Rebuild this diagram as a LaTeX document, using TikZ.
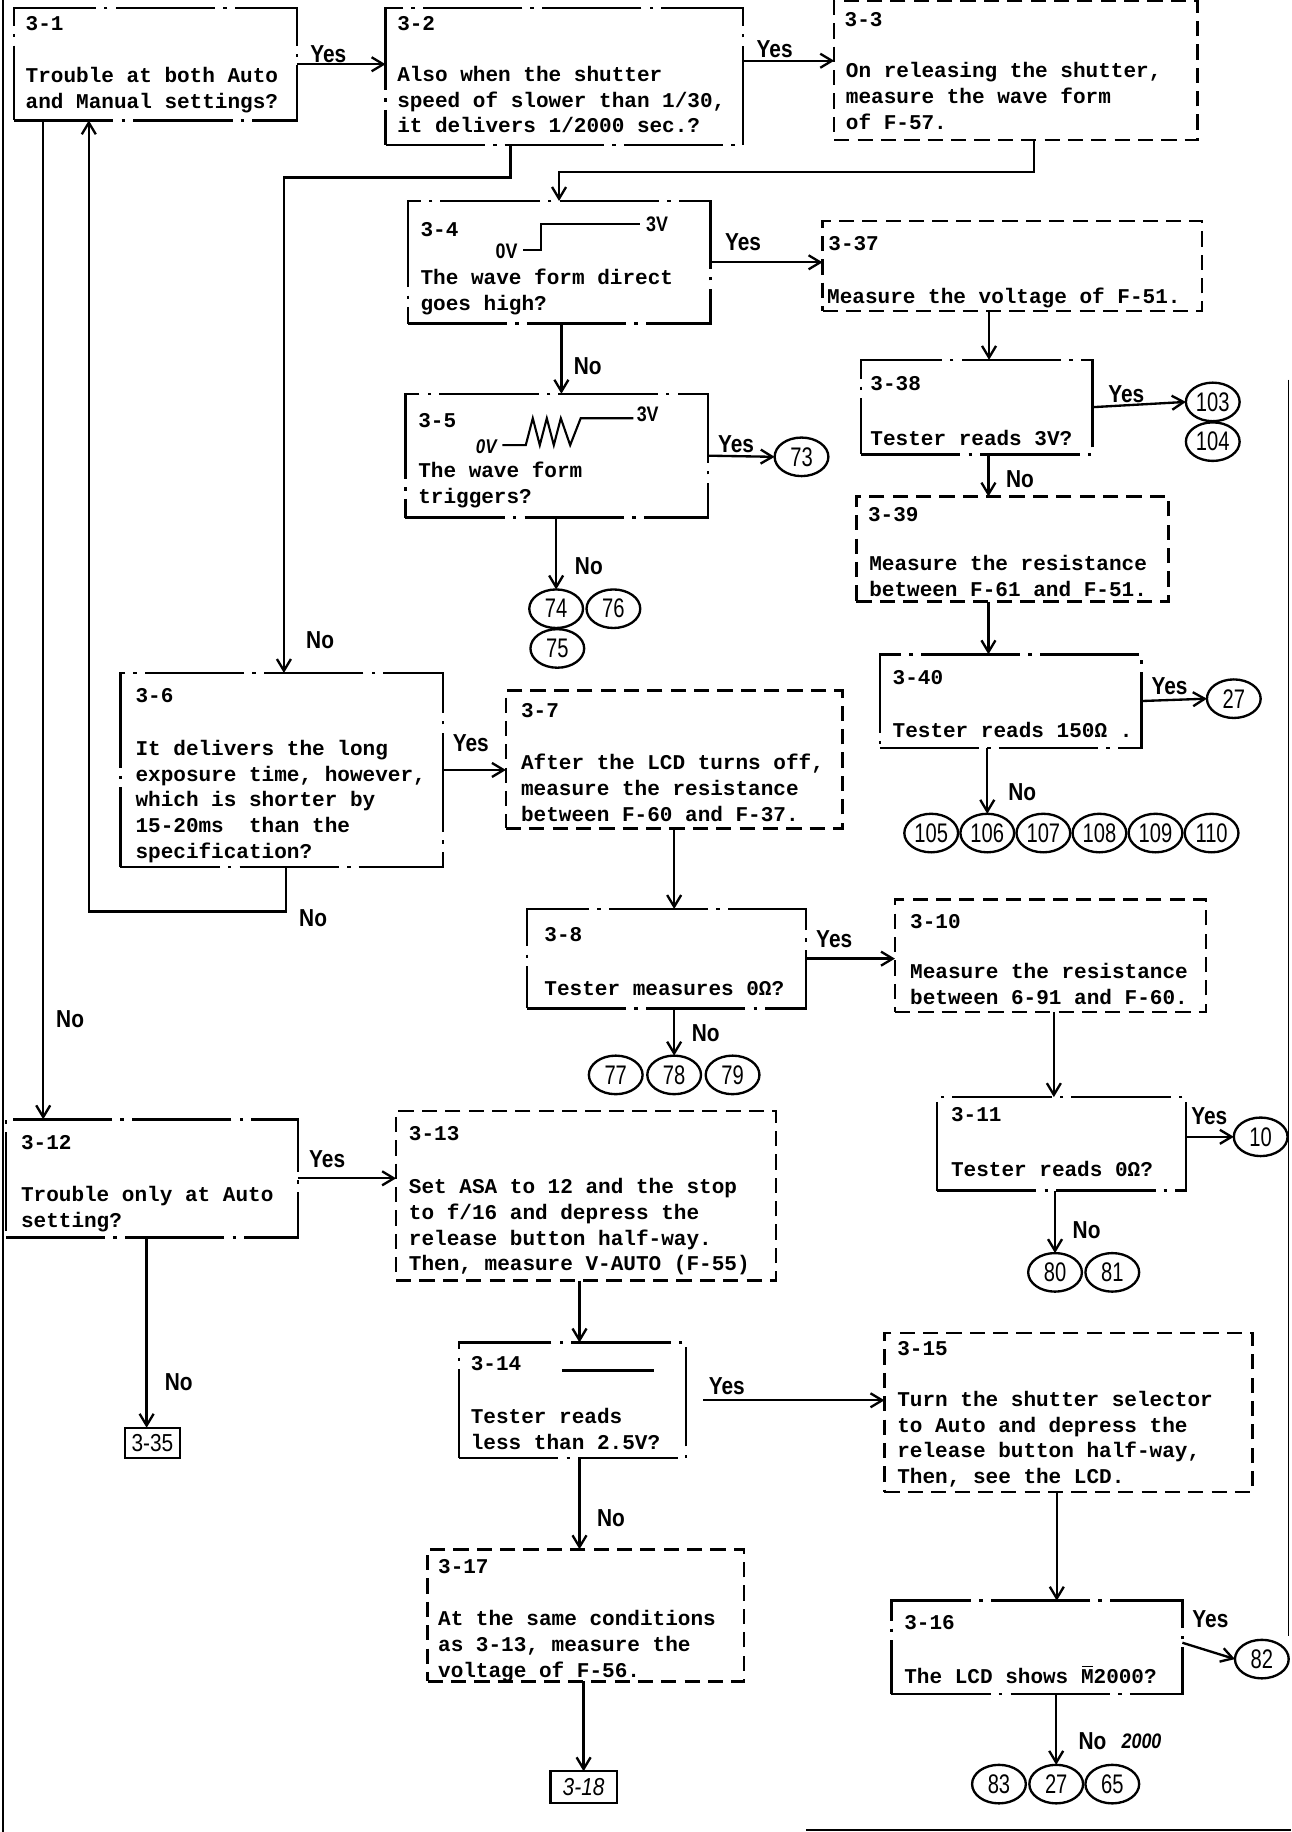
\documentclass[tikz,border=0pt]{standalone}
\usepackage{fontspec}
\newfontfamily\tw{Liberation Mono}
\newfontfamily\hw[FakeStretch=0.85]{Liberation Sans}
\newfontfamily\hwn[FakeStretch=0.75]{Liberation Sans}
\usetikzlibrary{arrows.meta,shapes.geometric}
\tikzset{
  every node/.style={inner sep=0pt, outer sep=0pt},
  dec/.style={draw, rectangle, line width=2.1pt, dash pattern=on 85pt off 7pt on 3pt off 7pt},
  act/.style={draw, rectangle, line width=2.1pt, dash pattern=on 13pt off 7pt},
  hbox/.style={draw, rectangle, line width=2.1pt, font=\hw\fontsize{21}{22}\selectfont},
  idt/.style={anchor=base west, font=\tw\bfseries\fontsize{18}{22}\selectfont},
  body/.style={anchor=north west, align=left, font=\tw\bfseries\fontsize{18}{22}\selectfont, execute at begin node=\strut},
  arr/.style={line width=2pt, -{Straight Barb[length=10pt,width=12pt,line width=2pt]}},
  ln/.style={line width=1.8pt},
  yn/.style={font=\hw\bfseries\fontsize{21}{22}\selectfont},
  wv/.style={font=\hw\bfseries\fontsize{18}{20}\selectfont},
  cir/.style={ellipse, draw, line width=2pt, minimum width=46pt, minimum height=33pt, font=\hwn\fontsize{23}{24}\selectfont}
}
\begin{document}
\begin{tikzpicture}[x=1pt,y=-1pt]
\useasboundingbox (0,0) rectangle (1105,1568);
% scan borders
\draw[line width=2.2pt] (2.5,0) -- (2.5,1568);
\draw[line width=1pt] (1102.5,325) -- (1102.5,1400);
\draw[line width=1.8pt] (690,1566) -- (1105,1566);

% ---------- boxes ----------
\node[dec, minimum width=242pt, minimum height=96pt] (b31) at (133,55) {};
\node[idt] (b31i) at (22,26) {3-1};
\node[body] (b31t) at (22,57.6) {Trouble at both Auto\\and Manual settings?};

\node[dec, minimum width=306pt, minimum height=117pt] (b32) at (483,65.5) {};
\node[idt] (b32i) at (340,26) {3-2};
\node[body] (b32t) at (340,56.6) {Also when the shutter\\speed of slower than 1/30,\\it delivers 1/2000 sec.?};

\node[act, minimum width=311pt, minimum height=119pt] (b33) at (869.5,60.5) {};
\node[idt] (b33i) at (723,23) {3-3};
\node[body] (b33t) at (724,53.6) {On releasing the shutter,\\measure the wave form\\of F-57.};

\node[dec, minimum width=259pt, minimum height=105pt] (b34) at (478.5,224.5) {};
\node[idt] (b34i) at (360,202) {3-4};
\node[body] (b34t) at (360,230.6) {The wave form direct\\goes high?};
\draw[ln] (448,214) -- (463,214) -- (463,192) -- (548,192);
\node[wv, anchor=base east] (b34a) at (443,221) {0V};
\node[wv, anchor=base west] (b34b) at (553,198) {3V};

\node[act, minimum width=325pt, minimum height=77pt] (b337) at (866.5,227.5) {};
\node[idt] (b337i) at (709,214) {3-37};
\node[body] (b337t) at (708,244.6) {Measure the voltage of F-51.};

\node[dec, minimum width=198pt, minimum height=81pt] (b338) at (836,348.5) {};
\node[idt] (b338i) at (745,334) {3-38};
\node[body] (b338t) at (745,365.6) {Tester reads 3V?};

\node[act, minimum width=267pt, minimum height=90pt] (b339) at (866.5,470) {};
\node[idt] (b339i) at (743,446) {3-39};
\node[body] (b339t) at (744,475.6) {Measure the resistance\\between F-61 and F-51.};

\node[dec, minimum width=224pt, minimum height=80pt] (b340) at (865,600) {};
\node[idt] (b340i) at (764,586) {3-40};
\node[body] (b340t) at (764,615.6) {Tester reads 150Ω .};

\node[dec, minimum width=259pt, minimum height=106pt] (b35) at (476.5,390) {};
\node[idt] (b35i) at (358,366) {3-5};
\node[body] (b35t) at (358,395.6) {The wave form\\triggers?};
\draw[ln] (430,381) -- (450,381) -- (456,358) -- (462,381) -- (468,358) -- (474,381) -- (480,358) -- (488,381) -- (497,358) -- (542,358);
\node[wv, anchor=base east, font=\hw\bfseries\itshape\fontsize{17}{20}\selectfont] (b35a) at (425,388) {0V};
\node[wv, anchor=base west] (b35b) at (545,361) {3V};

\node[dec, minimum width=276pt, minimum height=166pt] (b36) at (241,659) {};
\node[idt] (b36i) at (116,601) {3-6};
\node[body] (b36t) at (116,633.6) {It delivers the long\\exposure time, however,\\which is shorter by\\15-20ms\ \ than the\\specification?};

\node[act, minimum width=288pt, minimum height=118pt] (b37) at (577,650) {};
\node[idt] (b37i) at (446,614) {3-7};
\node[body] (b37t) at (446,645.6) {After the LCD turns off,\\measure the resistance\\between F-60 and F-37.};

\node[dec, minimum width=239pt, minimum height=85pt] (b38) at (570.5,820.5) {};
\node[idt] (b38i) at (466,806) {3-8};
\node[body] (b38t) at (466,836.6) {Tester measures 0Ω?};

\node[act, minimum width=266pt, minimum height=96pt] (b310) at (899,818) {};
\node[idt] (b310i) at (779,795) {3-10};
\node[body] (b310t) at (779,824.6) {Measure the resistance\\between 6-91 and F-60.};

\node[dec, minimum width=213pt, minimum height=80pt] (b311) at (908.5,979) {};
\node[idt] (b311i) at (814,960) {3-11};
\node[body] (b311t) at (814,991.6) {Tester reads 0Ω?};

\node[dec, minimum width=250pt, minimum height=101pt] (b312) at (130,1008.5) {};
\node[idt] (b312i) at (18,984) {3-12};
\node[body] (b312t) at (18,1015.6) {Trouble only at Auto\\setting?};

\node[act, minimum width=325pt, minimum height=145pt] (b313) at (501.5,1023.5) {};
\node[idt] (b313i) at (350,976) {3-13};
\node[body] (b313t) at (350,1008.6) {Set ASA to 12 and the stop\\to f/16 and depress the\\release button half-way.\\Then, measure V-AUTO (F-55)};

\node[dec, minimum width=194pt, minimum height=99pt] (b314) at (490,1198.5) {};
\node[idt] (b314i) at (403,1173) {3-14};
\node[body] (b314t) at (403,1205.6) {Tester reads\\less than 2.5V?};
\draw[ln] (481,1173) -- (560,1173);

\node[act, minimum width=315pt, minimum height=136pt] (b315) at (914.5,1209) {};
\node[idt] (b315i) at (768,1160) {3-15};
\node[body] (b315t) at (768,1190.6) {Turn the shutter selector\\to Auto and depress the\\release button half-way,\\Then, see the LCD.};

\node[dec, minimum width=249pt, minimum height=80pt] (b316) at (887.5,1410) {};
\node[idt] (b316i) at (774,1395) {3-16};
\node[body] (b316t) at (774,1425.6) {The LCD shows \rlap{\hspace{1pt}\rule[14.5pt]{9pt}{1.2pt}}M2000?};

\node[act, minimum width=271pt, minimum height=113pt] (b317) at (501.5,1382.5) {};
\node[idt] (b317i) at (375,1347) {3-17};
\node[body] (b317t) at (375,1378.6) {At the same conditions\\as 3-13, measure the\\voltage of F-56.};

\node[hbox, minimum width=47pt, minimum height=26pt] (b335) at (130.5,1235) {3-35};
\node[hbox, minimum width=57pt, minimum height=27pt, font=\hw\itshape\fontsize{21}{22}\selectfont] (b318) at (499.5,1529.5) {3-18};

% ---------- circles ----------
\node[cir] (c103) at (1038,344) {103};
\node[cir] (c104) at (1038,378) {104};
\node[cir] (c27a) at (1056,598) {27};
\node[cir] (c105) at (797,713) {105};
\node[cir] (c106) at (845,713) {106};
\node[cir] (c107) at (893,713) {107};
\node[cir] (c108) at (941,713) {108};
\node[cir] (c109) at (989,713) {109};
\node[cir] (c110) at (1037,713) {110};
\node[cir] (c73) at (686,391) {73};
\node[cir] (c74) at (476,521) {74};
\node[cir] (c76) at (525,521) {76};
\node[cir] (c75) at (477,555) {75};
\node[cir] (c77) at (527,920) {77};
\node[cir] (c78) at (577,920) {78};
\node[cir] (c79) at (627,920) {79};
\node[cir] (c10) at (1079,973) {10};
\node[cir] (c80) at (903,1089) {80};
\node[cir] (c81) at (952,1089) {81};
\node[cir] (c82) at (1080,1420) {82};
\node[cir] (c83) at (855,1527) {83};
\node[cir] (c27b) at (904,1527) {27};
\node[cir] (c65) at (952,1527) {65};

% ---------- connectors ----------
\draw[arr] (b31.east) -- (b31.east -| b32.west);
\draw[arr] ([yshift=13.5pt]b32.east) -- ([yshift=13.5pt]b32.east -| b33.west);
\draw[arr] ([xshift=15.5pt]b33.south) -- ++(0,27) -| (b34.north);
\draw[arr] ([xshift=-46pt]b32.south) -- ++(0,28) -| ([xshift=2pt]b36.north);
\draw[arr] (b34.east) -- (b34.east -| b337.west);
\draw[arr] ([xshift=-20pt]b337.south) -- ([xshift=-20pt]b337.south |- b338.north);
\draw[arr] (b338.east) -- (c103.west);
\draw[arr] ([xshift=10pt]b338.south) -- ([xshift=10pt]b338.south |- b339.north);
\draw[arr] ([xshift=-20.5pt]b339.south) -- ([xshift=-20.5pt]b339.south |- b340.north);
\draw[arr] (b340.east) -- (c27a.west);
\draw[arr] (c106.north |- b340.south) -- (c106.north);
\draw[arr] ([xshift=2pt]b34.south) -- ([xshift=2pt]b34.south |- b35.north);
\draw[arr] (b35.east) -- (c73.west);
\draw[arr] (c74.north |- b35.south) -- (c74.north);
\draw[arr] (b36.east) -- (b36.east -| b37.west);
\draw[arr] ([xshift=4pt]b36.south) -- ++(0,38) -| ([xshift=-57pt]b31.south);
\draw[arr] (b37.south) -- (b37.south |- b38.north);
\draw[arr] (b38.east) -- (b38.east -| b310.west);
\draw[arr] (c78.north |- b38.south) -- (c78.north);
\draw[arr] ([xshift=3pt]b310.south) -- ([xshift=3pt]b310.south |- b311.north);
\draw[arr] ([yshift=6pt]b311.east) -- (c10.west);
\draw[arr] (c80.north |- b311.south) -- (c80.north);
\draw[arr] ([xshift=-96pt]b31.south) -- ([xshift=-96pt]b31.south |- b312.north);
\draw[arr] (b312.east) -- (b312.east -| b313.west);
\draw[arr] ([xshift=-5pt]b335.north |- b312.south) -- ([xshift=-5pt]b335.north);
\draw[arr] ([xshift=6pt]b314.north |- b313.south) -- ([xshift=6pt]b314.north);
\draw[arr, shorten <=15pt] (b314.east) -- (b314.east -| b315.west);
\draw[arr] ([xshift=6pt]b314.south) -- ([xshift=6pt]b314.south |- b317.north);
\draw[arr] (b318.north |- b317.south) -- (b318.north);
\draw[arr] ([xshift=-10pt]b315.south) -- ([xshift=-10pt]b315.south |- b316.north);
\draw[arr] ([yshift=4pt]b316.east) -- (c82.west);
\draw[arr] (c27b.north |- b316.south) -- (c27b.north);

% ---------- Yes / No labels ----------
\node[yn] (l1) at (281,46) {Yes};
\node[yn] (l2) at (663,42) {Yes};
\node[yn] (l3) at (274,548) {No};
\node[yn] (l4) at (636,207) {Yes};
\node[yn] (l5) at (503,313) {No};
\node[yn] (l6) at (630,380) {Yes};
\node[yn] (l7) at (504,485) {No};
\node[yn] (l8) at (964,337) {Yes};
\node[yn] (l9) at (873,410) {No};
\node[yn] (l10) at (1001,587) {Yes};
\node[yn] (l11) at (875,678) {No};
\node[yn] (l12) at (403,636) {Yes};
\node[yn] (l13) at (268,786) {No};
\node[yn] (l14) at (714,804) {Yes};
\node[yn] (l15) at (604,884) {No};
\node[yn] (l16) at (1035,955) {Yes};
\node[yn] (l17) at (930,1053) {No};
\node[yn] (l18) at (60,872) {No};
\node[yn] (l19) at (280,992) {Yes};
\node[yn] (l20) at (153,1183) {No};
\node[yn] (l21) at (622,1186) {Yes};
\node[yn] (l22) at (523,1299) {No};
\node[yn] (l23) at (1036,1386) {Yes};
\node[yn] (l24) at (935,1490) {No};
\node[font=\hw\bfseries\itshape\fontsize{18}{20}\selectfont] (l25) at (977,1490) {2000};
\end{tikzpicture}
\end{document}
